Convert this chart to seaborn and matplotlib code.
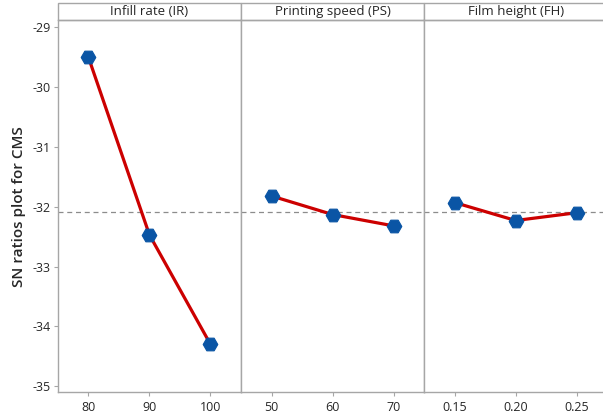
import pandas as pd
import seaborn as sns
import matplotlib.pyplot as plt
from matplotlib.patches import Rectangle

# Values
factors = ["Infill rate (IR)", "Printing speed (PS)", "Film height (FH)"]
ir_levels = ["80", "90", "100"]
ps_levels = ["50", "60", "70"]
fh_levels = ["0.15", "0.20", "0.25"]
ir_sn = [-29.50, -32.47, -34.30]
ps_sn = [-31.82, -32.13, -32.32]
fh_sn = [-31.93, -32.23, -32.10]
y_ticks = [-29, -30, -31, -32, -33, -34, -35]

levels = [ir_levels, ps_levels, fh_levels]
values = [ir_sn, ps_sn, fh_sn]
overall_mean = sum(ir_sn) / len(ir_sn)

sns.set_style("white")
plt.rcParams["font.family"] = ["Open Sans", "DejaVu Sans"]
plt.rcParams["axes.unicode_minus"] = False

fig, axes = plt.subplots(1, 3, figsize=(6.03, 4.19), dpi=100, sharey=True)
# right edge runs past the image, as in the reference
fig.subplots_adjust(left=0.096, right=1.007, bottom=0.064, top=0.952, wspace=0)

grey = "#a6a6a6"
for ax, name, lev, val in zip(axes, factors, levels, values):
    df = pd.DataFrame({"level": lev, "sn": val})
    ax.axhline(overall_mean, color="#8c8c8c", lw=0.9, ls=(0, (4, 3)), zorder=1)
    sns.lineplot(data=df, x="level", y="sn", ax=ax, color="#cc0000", lw=2.3,
                 sort=False, zorder=2)
    sns.scatterplot(data=df, x="level", y="sn", ax=ax, color="#0a55a5",
                    marker="H", s=110, edgecolor="#0a55a5", zorder=3)
    ax.set_xlim(-0.5, 2.5)
    ax.set_ylim(-35.1, -28.88)
    ax.set_xlabel("")
    ax.set_ylabel("")
    for sp in ax.spines.values():
        sp.set_color(grey)
        sp.set_linewidth(1.0)
    ax.tick_params(axis="x", length=3, color=grey, labelsize=9, pad=3,
                   bottom=True)
    ax.tick_params(axis="y", length=3, color=grey, labelsize=9, pad=2,
                   left=True)
    # header strip
    ax.add_patch(Rectangle((0, 1.0), 1, 0.046, transform=ax.transAxes,
                           facecolor="white", edgecolor=grey, lw=1.0,
                           clip_on=False))
    ax.text(0.5, 1.022, name, transform=ax.transAxes, ha="center",
            va="center", fontsize=9.5)

axes[0].set_yticks(y_ticks)
axes[0].set_ylabel("SN ratios plot for CMS", fontsize=11, fontweight="semibold",
                   labelpad=5)
for ax in axes[1:]:
    ax.tick_params(axis="y", left=False)

fig.savefig("out.png", dpi=100)
